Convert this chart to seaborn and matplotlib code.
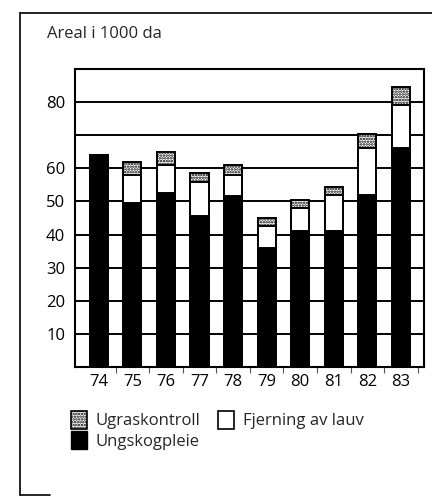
import matplotlib
matplotlib.use("Agg")
import numpy as np
import pandas as pd
import seaborn as sns
from matplotlib import pyplot as plt
from matplotlib.lines import Line2D
from matplotlib.patches import Patch

# Values (1000 da)
years = ["74", "75", "76", "77", "78", "79", "80", "81", "82", "83"]
ungskogpleie = [64, 49.5, 52.5, 45.5, 51.5, 36, 41, 41, 52, 66]
fjerning = [0, 8.5, 8.5, 10.5, 6.5, 6.5, 7, 11, 14, 13]
ugraskontroll = [0, 4, 4, 2.5, 3, 2.5, 2.5, 2.5, 4.5, 5.5]

ytick_vals = [10, 20, 30, 40, 50, 60, 70, 80]
ytick_labels = ["10", "20", "30", "40", "50", "60", "", "80"]

data = pd.DataFrame({
    "year": years,
    "black": ungskogpleie,
    "white": np.add(ungskogpleie, fjerning),
    "total": np.add(np.add(ungskogpleie, fjerning), ugraskontroll),
})

sns.set_theme(style="white")
plt.rcParams["font.family"] = ["Open Sans", "DejaVu Sans"]
plt.rcParams["hatch.linewidth"] = 1.2
plt.rcParams["hatch.color"] = "black"

fig = plt.figure(figsize=(4.32, 4.97), dpi=100)
ax = fig.add_axes([75 / 432, 1 - 367 / 497, (424 - 75) / 432, (367 - 69) / 497])

bw = 0.54
kw = dict(width=bw, edgecolor="black", linewidth=1.4, zorder=3)
# draw stacked bars as overlays, tallest first
sns.barplot(data=data, x="year", y="total", color="white", saturation=1,
            hatch="......", ax=ax, **kw)
sns.barplot(data=data, x="year", y="white", color="white", saturation=1, ax=ax, **kw)
sns.barplot(data=data, x="year", y="black", color="black", saturation=1, ax=ax, **kw)

ax.set_ylim(0, 90)
ax.set_xlim(-0.71, 9.69)
ax.set_yticks(ytick_vals)
ax.set_yticklabels(ytick_labels)
ax.yaxis.grid(True, color="black", linewidth=1.4, zorder=0)
ax.set_axisbelow(True)
ax.set_xlabel("")
ax.set_ylabel("")
ax.tick_params(axis="y", length=0, pad=7, labelsize=12, colors="black")
ax.tick_params(axis="x", length=0, pad=5, labelsize=12, colors="black")
ax.set_xticks(np.arange(len(years)) + 0.5, minor=True)
ax.tick_params(axis="x", which="minor", length=4, width=0.8, direction="out",
               bottom=True, color="#555555")
for sp in ax.spines.values():
    sp.set_visible(True)
    sp.set_color("black")
    sp.set_linewidth(1.5)

fig.text(47 / 432, 1 - 34 / 497, "Areal i 1000 da", fontsize=12, va="center", ha="left")

handles = [
    Patch(facecolor="white", edgecolor="black", hatch="......", linewidth=1.2),
    Patch(facecolor="black", edgecolor="black"),
    Patch(facecolor="white", edgecolor="black", linewidth=1.2),
]
labels = ["Ugraskontroll", "Ungskogpleie", "Fjerning av lauv"]
fig.legend(handles, labels, ncol=2, loc="upper left",
           bbox_to_anchor=(71 / 432, 1 - 411 / 497), frameon=False,
           fontsize=12, handlelength=0.95, handleheight=1.25,
           handletextpad=0.5, columnspacing=1.1, labelspacing=0.1,
           borderpad=0, borderaxespad=0)

# outer frame of the scanned page
fig.add_artist(Line2D([20 / 432, 1], [1 - 13 / 497, 1 - 13 / 497], color="black", lw=1.2))
fig.add_artist(Line2D([20 / 432, 20 / 432], [1 - 13 / 497, 1 - 495 / 497], color="black", lw=1.2))
fig.add_artist(Line2D([20 / 432, 50 / 432], [1 - 495 / 497, 1 - 495 / 497], color="black", lw=1.2))

fig.savefig("out.png", dpi=100)
